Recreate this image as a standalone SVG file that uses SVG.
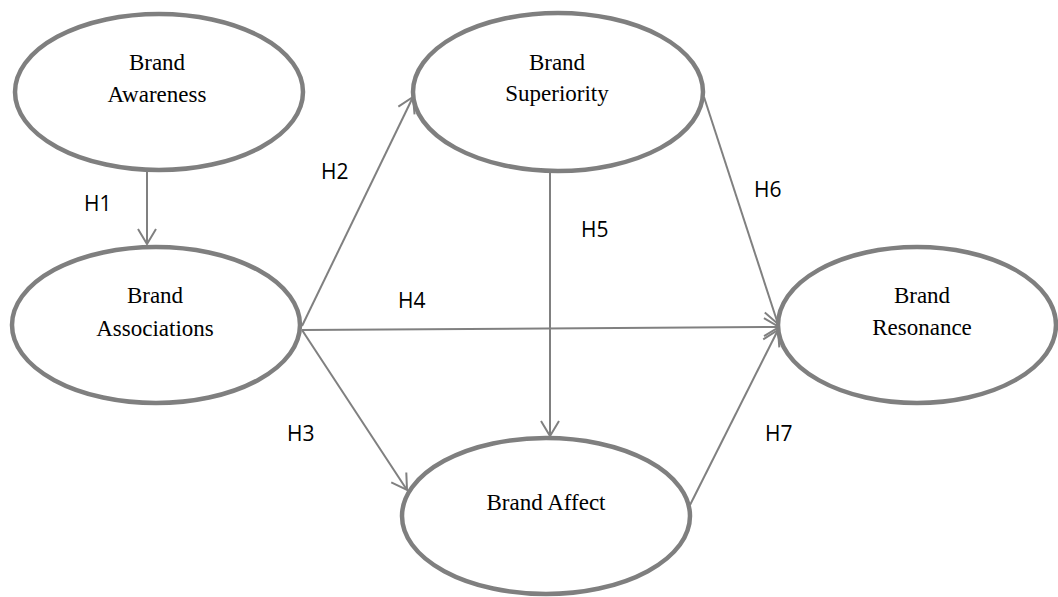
<svg xmlns="http://www.w3.org/2000/svg" width="1058" height="597" viewBox="0 0 1058 597">
<style>
.node ellipse{fill:#fff;stroke:#7f7f7f;stroke-width:4.5}
.node text{font-family:"Liberation Serif","Times New Roman",serif;font-size:23px;fill:#000;text-anchor:middle}
.edges line{stroke:#808080;stroke-width:2;marker-end:url(#arr)}
.lbl{font-family:"Open Sans","Liberation Sans",sans-serif;font-size:21px;fill:#000}
</style>
<defs>
<marker id="arr" markerUnits="userSpaceOnUse" markerWidth="20" markerHeight="22" viewBox="0 0 20 22" refX="17" refY="11" orient="auto">
<path d="M2,2 L17,11 L2,20" fill="none" stroke="#808080" stroke-width="2"/>
</marker>
</defs>
<rect width="1058" height="597" fill="#fff"/>
<g class="edges" id="connectors">
<line x1="147" y1="171" x2="147" y2="244"/>
<line x1="302" y1="326" x2="413" y2="97"/>
<line x1="302" y1="330" x2="407" y2="490"/>
<line x1="302" y1="330" x2="779" y2="327"/>
<line x1="550" y1="173" x2="550" y2="436"/>
<line x1="704" y1="97" x2="778" y2="324"/>
<line x1="690" y1="505" x2="778" y2="330"/>
</g>
<g id="awareness" class="node">
<ellipse cx="159" cy="92" rx="144" ry="78"/>
<text x="157" y="70">Brand</text>
<text x="157" y="102">Awareness</text>
</g>
<g id="superiority" class="node">
<ellipse cx="558" cy="92" rx="145" ry="79"/>
<text x="557" y="70">Brand</text>
<text x="557" y="101">Superiority</text>
</g>
<g id="associations" class="node">
<ellipse cx="156" cy="325" rx="144" ry="78"/>
<text x="155" y="303">Brand</text>
<text x="155" y="336">Associations</text>
</g>
<g id="affect" class="node">
<ellipse cx="546" cy="516" rx="144" ry="78"/>
<text x="546" y="510">Brand Affect</text>
</g>
<g id="resonance" class="node">
<ellipse cx="917" cy="325" rx="139" ry="78"/>
<text x="922" y="303">Brand</text>
<text x="922" y="335">Resonance</text>
</g>
<g id="labels">
<text class="lbl" x="84" y="211">H1</text>
<text class="lbl" x="321" y="179">H2</text>
<text class="lbl" x="287" y="441">H3</text>
<text class="lbl" x="398" y="308">H4</text>
<text class="lbl" x="581" y="237">H5</text>
<text class="lbl" x="754" y="197">H6</text>
<text class="lbl" x="765" y="441">H7</text>
</g>
</svg>
